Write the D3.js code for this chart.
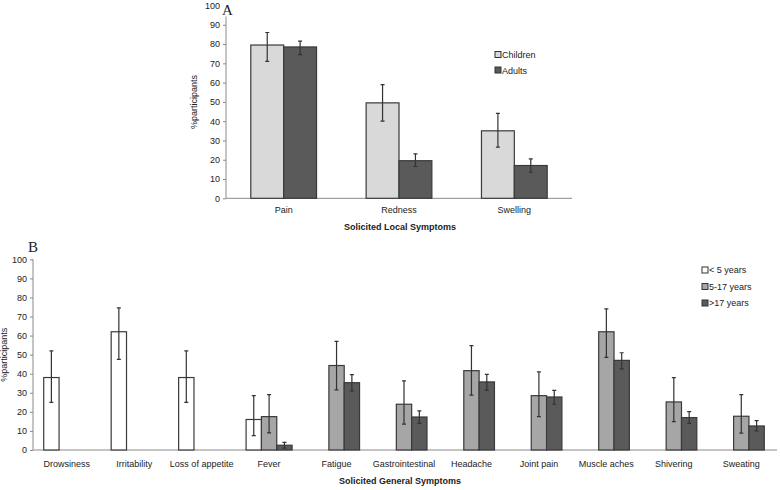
<!DOCTYPE html>
<html>
<head>
<meta charset="utf-8">
<script src="https://cdn.jsdelivr.net/npm/d3@7"></script>
<style>
  body { margin: 0; background: #fff; }
  text { font-family: "Liberation Sans", Arial, sans-serif; fill: #222; }
  .axis path, .axis line { stroke: #8a8a8a; }
  .axis text { font-size: 9px; font-family: "Liberation Sans", Arial, sans-serif; fill: #222; }
</style>
</head>
<body>
<div id="chart"></div>
<script>
// Panel A data
var localCats = ["Pain", "Redness", "Swelling"];
var localSeries = ["Children", "Adults"];
var childVals = [79.5, 49.5, 35];
var childLo = [71, 40, 26.5];
var childHi = [86, 59, 44];
var adultVals = [78.5, 19.5, 17];
var adultLo = [74.5, 16.5, 13.5];
var adultHi = [81.5, 23, 20.5];

// Panel B data
var generalCats = ["Drowsiness", "Irritability", "Loss of appetite", "Fever", "Fatigue",
  "Gastrointestinal", "Headache", "Joint pain", "Muscle aches", "Shivering", "Sweating"];
var ageSeries = ["< 5 years", "5-17 years", ">17 years"];
// null = not asked for that age group
var under5Vals = [38, 62, 38, 16, null, null, null, null, null, null, null];
var under5Lo = [25, 47.5, 25, 7.5, null, null, null, null, null, null, null];
var under5Hi = [52, 74.5, 52, 28.5, null, null, null, null, null, null, null];
var age517Vals = [null, null, null, 17.5, 44.3, 24, 41.6, 28.5, 62, 25.2, 17.7];
var age517Lo = [null, null, null, 9, 31.5, 13.6, 28.8, 17.5, 48.6, 14.9, 8.9];
var age517Hi = [null, null, null, 29, 57, 36.2, 54.7, 41, 74, 37.9, 29];
var adult17Vals = [null, null, null, 2.5, 35.3, 17.3, 35.7, 27.8, 47, 17, 12.6];
var adult17Lo = [null, null, null, 1, 31, 14, 31.3, 24, 42.5, 14, 10];
var adult17Hi = [null, null, null, 4, 39.5, 20.5, 39.7, 31.3, 51, 20.1, 15.4];

var yTicks = [0, 10, 20, 30, 40, 50, 60, 70, 80, 90, 100];

var svg = d3.select("#chart").append("svg")
  .attr("width", 780)
  .attr("height", 490);

svg.append("rect").attr("width", 780).attr("height", 490).attr("fill", "#fff");

function drawPanel(opts) {
  var g = svg.append("g")
    .attr("transform", "translate(" + opts.left + "," + opts.top + ")");

  var x0 = d3.scaleBand().domain(opts.cats).range([0, opts.width])
    .paddingInner(opts.padIn).paddingOuter(opts.padIn / 2);
  var x1 = d3.scaleBand().domain(opts.series).range([0, x0.bandwidth()]);
  var y = d3.scaleLinear().domain([0, 100]).range([opts.height, 0]);

  // y axis
  g.append("g")
    .attr("class", "axis")
    .call(d3.axisLeft(y).tickValues(yTicks).tickSize(3).tickSizeOuter(0))
    .call(function(a) { a.select(".domain").attr("d", "M0," + opts.height + "V0"); });

  // x axis line
  g.append("line")
    .attr("x1", 0).attr("x2", opts.axisEnd)
    .attr("y1", opts.height).attr("y2", opts.height)
    .attr("stroke", "#8a8a8a");

  // category labels
  g.selectAll(".cat")
    .data(opts.cats)
    .enter().append("text")
    .attr("x", function(d) { return x0(d) + x0.bandwidth() / 2; })
    .attr("y", opts.height + opts.catDy)
    .attr("text-anchor", "middle")
    .style("font-size", "9px")
    .text(function(d) { return d; });

  // bars
  opts.series.forEach(function(s, si) {
    var vals = opts.vals[si], lo = opts.lo[si], hi = opts.hi[si];
    opts.cats.forEach(function(c, ci) {
      if (vals[ci] == null) return;
      var bx = x0(c) + x1(s);
      g.append("rect")
        .attr("x", bx)
        .attr("y", y(vals[ci]))
        .attr("width", x1.bandwidth())
        .attr("height", opts.height - y(vals[ci]))
        .attr("fill", opts.colors[si])
        .attr("stroke", "#3a3a3a")
        .attr("stroke-width", 1.2);
      var cx = bx + x1.bandwidth() / 2;
      g.append("path")
        .attr("d", "M" + cx + "," + y(lo[ci]) + "V" + y(hi[ci]) +
          "M" + (cx - 2) + "," + y(hi[ci]) + "H" + (cx + 2) +
          "M" + (cx - 2) + "," + y(lo[ci]) + "H" + (cx + 2))
        .attr("stroke", "#333")
        .attr("stroke-width", 1.2)
        .attr("fill", "none");
    });
  });

  // y title
  g.append("text")
    .attr("transform", "translate(" + opts.yTitleX + "," + (opts.height / 2) + ") rotate(-90)")
    .attr("text-anchor", "middle")
    .style("font-size", "9px")
    .text("%participants");

  // x title
  g.append("text")
    .attr("x", opts.xTitleX)
    .attr("y", opts.height + opts.catDy + 17)
    .attr("text-anchor", "middle")
    .style("font-size", "9px")
    .style("font-weight", "bold")
    .text(opts.xTitle);

  // legend
  opts.series.forEach(function(s, si) {
    var ly = opts.legY + si * opts.legStep;
    g.append("rect")
      .attr("x", opts.legX).attr("y", ly - 3)
      .attr("width", 6).attr("height", 6)
      .attr("fill", opts.colors[si])
      .attr("stroke", "#333");
    g.append("text")
      .attr("x", opts.legX + 7).attr("y", ly + 3.5)
      .style("font-size", "9px")
      .text(s);
  });

  // panel label
  g.append("rect")
    .attr("x", opts.label[0]).attr("y", opts.label[1] - 12)
    .attr("width", 12).attr("height", 14).attr("fill", "#fff");
  g.append("text")
    .attr("x", opts.label[0]).attr("y", opts.label[1])
    .style("font-family", "'Liberation Serif', 'DejaVu Serif', serif")
    .style("font-size", "15px")
    .text(opts.labelText);
}

drawPanel({
  left: 226, top: 5.5, width: 346, height: 192.8, axisEnd: 346,
  cats: localCats, series: localSeries, padIn: 0.43, catDy: 15,
  vals: [childVals, adultVals], lo: [childLo, adultLo], hi: [childHi, adultHi],
  colors: ["#d9d9d9", "#5a5a5a"],
  yTitleX: -29, xTitle: "Solicited Local  Symptoms", xTitleX: 174,
  legX: 269, legY: 49, legStep: 15.5,
  label: [-4, 9], labelText: "A"
});

drawPanel({
  left: 33, top: 259.3, width: 742, height: 190.7, axisEnd: 744,
  cats: generalCats, series: ageSeries, padIn: 0.318, catDy: 17,
  vals: [under5Vals, age517Vals, adult17Vals],
  lo: [under5Lo, age517Lo, adult17Lo],
  hi: [under5Hi, age517Hi, adult17Hi],
  colors: ["#ffffff", "#a6a6a6", "#5a5a5a"],
  yTitleX: -26, xTitle: "Solicited General  Symptoms", xTitleX: 367,
  legX: 669, legY: 10.7, legStep: 16.5,
  label: [-5, -7], labelText: "B"
});
</script>
</body>
</html>
